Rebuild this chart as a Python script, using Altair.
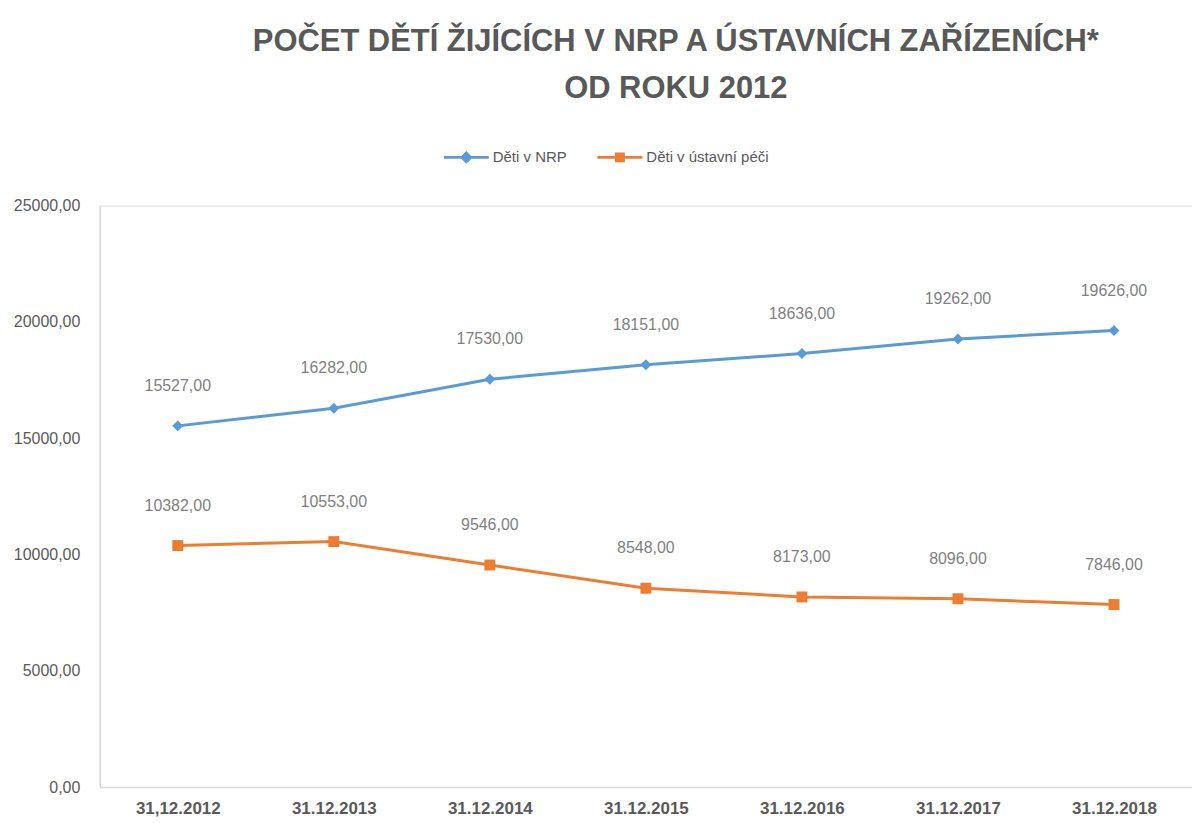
import altair as alt
import pandas as pd

dates = ["31,12.2012", "31.12.2013", "31.12.2014", "31.12.2015", "31.12.2016", "31.12.2017", "31.12.2018"]
nrp = [15527, 16282, 17530, 18151, 18636, 19262, 19626]
ustav = [10382, 10553, 9546, 8548, 8173, 8096, 7846]
series_names = ["Děti v NRP", "Děti v ústavní péči"]
colors = ["#5B9BD5", "#ED7D31"]
y_ticks = [0, 5000, 10000, 15000, 20000, 25000]

rows = []
for name, vals in zip(series_names, [nrp, ustav]):
    for d, v in zip(dates, vals):
        rows.append({"date": d, "series": name, "value": v})
df = pd.DataFrame(rows)

W, H = 1095, 583

color_scale = alt.Scale(domain=series_names, range=colors)

x = alt.X("date:N", sort=dates,
          axis=alt.Axis(title=None, labelAngle=0, ticks=False, domainColor="#d9d9d9",
                        domainWidth=1.5, labelColor="#595959", labelFont="Liberation Sans",
                        labelFontWeight="bold", labelFontSize=17, labelPadding=14))
y = alt.Y("value:Q", scale=alt.Scale(domain=[0, 25000]),
          axis=alt.Axis(title=None, values=y_ticks, grid=False, ticks=False,
                        domainColor="#d9d9d9", domainWidth=1.5,
                        labelExpr="replace(format(datum.value, '.2f'), '.', ',')",
                        labelColor="#595959", labelFont="Liberation Sans",
                        labelFontSize=16, labelPadding=20))

base = alt.Chart(df).encode(x=x, y=y)

lines = base.mark_line(strokeWidth=3).encode(
    color=alt.Color("series:N", scale=color_scale, legend=None))

points = base.mark_point(filled=True, size=120, opacity=1).encode(
    color=alt.Color("series:N", scale=color_scale, legend=None),
    shape=alt.Shape("series:N", scale=alt.Scale(domain=series_names, range=["diamond", "square"]),
                    legend=None))

labels = base.transform_calculate(
    lbl="replace(format(datum.value, '.2f'), '.', ',')"
).mark_text(dy=-40, fontSize=16, font="Liberation Sans", color="#7f7f7f").encode(
    text="lbl:N")

diamond_path = ("M-1,-0.066 L1,-0.066 L1,0.066 L-1,0.066 Z "
                "M0,-0.28 L0.28,0 L0,0.28 L-0.28,0 Z")
square_path = ("M-1,-0.066 L1,-0.066 L1,0.066 L-1,0.066 Z "
               "M-0.22,-0.22 L0.22,-0.22 L0.22,0.22 L-0.22,0.22 Z")

leg = alt.Legend(orient="none", legendX=345, legendY=-71,
                 direction="horizontal", title=None,
                 symbolOpacity=1, symbolSize=2025,
                 symbolStrokeWidth=0, labelFontSize=15,
                 labelFont="Liberation Sans", labelColor="#595959",
                 labelOffset=4, columnPadding=30, padding=0)

legend_layer = base.mark_point(filled=True, opacity=0, size=2025, strokeWidth=0).encode(
    fill=alt.Fill("series:N", scale=color_scale, legend=leg),
    shape=alt.Shape("series:N", scale=alt.Scale(domain=series_names,
                                                range=[diamond_path, square_path]),
                    legend=leg))

chart = alt.layer(lines, points, labels, legend_layer).resolve_scale(
    shape="independent", fill="independent"
).properties(
    width=W, height=H,
    title=alt.TitleParams(
        text=["POČET DĚTÍ ŽIJÍCÍCH V NRP A ÚSTAVNÍCH ZAŘÍZENÍCH*", "OD ROKU 2012"],
        font="Liberation Sans",
        fontSize=31, fontWeight="bold", color="#595959", anchor="middle",
        lineHeight=47, offset=30, dx=30),
    autosize=alt.AutoSizeParams(type="none"),
    padding={"left": 100, "top": 205, "right": 0, "bottom": 35},
).configure_view(stroke=None).configure(background="white")

chart.save("out.html", embed_options={"renderer": "svg", "actions": False})
